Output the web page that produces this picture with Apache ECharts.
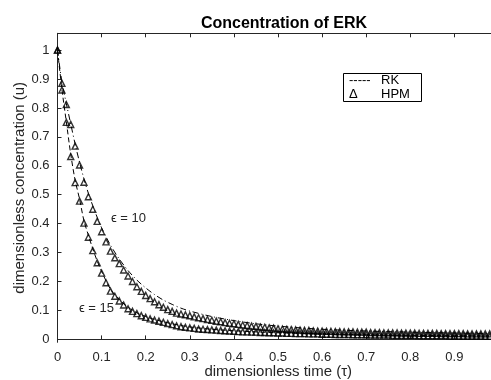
<!DOCTYPE html>
<html>
<head>
<meta charset="utf-8">
<script src="https://cdn.jsdelivr.net/npm/echarts@6/dist/echarts.min.js"></script>
<style>
  html, body { margin: 0; padding: 0; background: #fff; }
  #chart { width: 491px; height: 380px; }
</style>
</head>
<body>
<div id="chart"></div>
<script>
// HPM samples (triangles)
const tHpm = [
  0.00, 0.01, 0.02, 0.03, 0.04, 0.05, 0.06, 0.07, 0.08, 0.09,
  0.10, 0.11, 0.12, 0.13, 0.14, 0.15, 0.16, 0.17, 0.18, 0.19,
  0.20, 0.21, 0.22, 0.23, 0.24, 0.25, 0.26, 0.27, 0.28, 0.29,
  0.30, 0.31, 0.32, 0.33, 0.34, 0.35, 0.36, 0.37, 0.38, 0.39,
  0.40, 0.41, 0.42, 0.43, 0.44, 0.45, 0.46, 0.47, 0.48, 0.49,
  0.50, 0.51, 0.52, 0.53, 0.54, 0.55, 0.56, 0.57, 0.58, 0.59,
  0.60, 0.61, 0.62, 0.63, 0.64, 0.65, 0.66, 0.67, 0.68, 0.69,
  0.70, 0.71, 0.72, 0.73, 0.74, 0.75, 0.76, 0.77, 0.78, 0.79,
  0.80, 0.81, 0.82, 0.83, 0.84, 0.85, 0.86, 0.87, 0.88, 0.89,
  0.90, 0.91, 0.92, 0.93, 0.94, 0.95, 0.96, 0.97, 0.98
]
const hpmEps10 = [
  1.000, 0.885, 0.812, 0.743, 0.668, 0.603, 0.543, 0.493, 0.450, 0.408,
  0.372, 0.337, 0.305, 0.282, 0.262, 0.240, 0.219, 0.200, 0.182, 0.166,
  0.152, 0.141, 0.130, 0.120, 0.111, 0.103, 0.097, 0.091, 0.088, 0.085,
  0.082, 0.078, 0.075, 0.072, 0.069, 0.066, 0.063, 0.061, 0.058, 0.056,
  0.054, 0.052, 0.050, 0.048, 0.046, 0.045, 0.043, 0.042, 0.040, 0.039,
  0.037, 0.036, 0.035, 0.034, 0.033, 0.032, 0.031, 0.031, 0.030, 0.029,
  0.029, 0.028, 0.028, 0.027, 0.027, 0.026, 0.026, 0.026, 0.025, 0.025,
  0.025, 0.024, 0.024, 0.024, 0.023, 0.023, 0.023, 0.023, 0.022, 0.022,
  0.022, 0.022, 0.021, 0.021, 0.021, 0.021, 0.021, 0.020, 0.020, 0.020,
  0.020, 0.020, 0.020, 0.019, 0.019, 0.019, 0.019, 0.019, 0.019
]
const hpmEps15 = [
  1.000, 0.862, 0.750, 0.632, 0.542, 0.478, 0.402, 0.353, 0.307, 0.265,
  0.229, 0.196, 0.167, 0.149, 0.133, 0.119, 0.106, 0.097, 0.089, 0.082,
  0.076, 0.071, 0.067, 0.063, 0.059, 0.055, 0.051, 0.047, 0.044, 0.042,
  0.040, 0.038, 0.036, 0.035, 0.034, 0.033, 0.032, 0.031, 0.030, 0.029,
  0.028, 0.027, 0.026, 0.026, 0.025, 0.025, 0.024, 0.024, 0.023, 0.023,
  0.022, 0.022, 0.021, 0.021, 0.020, 0.020, 0.020, 0.019, 0.019, 0.019,
  0.018, 0.018, 0.018, 0.017, 0.017, 0.017, 0.017, 0.016, 0.016, 0.016,
  0.016, 0.015, 0.015, 0.015, 0.015, 0.015, 0.014, 0.014, 0.014, 0.014,
  0.014, 0.014, 0.013, 0.013, 0.013, 0.013, 0.013, 0.013, 0.013, 0.012,
  0.012, 0.012, 0.012, 0.012, 0.012, 0.012, 0.012, 0.011, 0.011
]

// RK solution (lines)
const tRk = [
  0, 0.01, 0.02, 0.03, 0.04, 0.05, 0.06, 0.07, 0.08, 0.09, 0.10,
  0.12, 0.14, 0.16, 0.18, 0.20, 0.22, 0.24, 0.26, 0.28, 0.30,
  0.35, 0.40, 0.45, 0.50, 0.55, 0.60, 0.70, 0.80, 0.90, 0.983
]
const rkEps10 = [
  1.0, 0.89, 0.815, 0.745, 0.675, 0.612, 0.555, 0.505, 0.462, 0.422, 0.386,
  0.326, 0.278, 0.238, 0.205, 0.178, 0.155, 0.136, 0.121, 0.108, 0.098,
  0.079, 0.065, 0.054, 0.046, 0.040, 0.035, 0.029, 0.025, 0.022, 0.020
]
const rkEps15 = [
  1.0, 0.865, 0.752, 0.64, 0.55, 0.485, 0.41, 0.36, 0.313, 0.271, 0.235,
  0.174, 0.138, 0.111, 0.092, 0.079, 0.069, 0.061, 0.054, 0.048, 0.043,
  0.035, 0.030, 0.026, 0.023, 0.021, 0.019, 0.016, 0.014, 0.013, 0.012
]

const xTicks = [0, 0.1, 0.2, 0.3, 0.4, 0.5, 0.6, 0.7, 0.8, 0.9]
const yTicks = [0, 0.1, 0.2, 0.3, 0.4, 0.5, 0.6, 0.7, 0.8, 0.9, 1]

const font = "'Liberation Sans', Arial, 'DejaVu Sans', sans-serif"
const ink = '#262626'

const pairs = (xs, ys) => xs.map((x, i) => [x, ys[i]])

const chart = echarts.init(document.getElementById('chart'), null, { renderer: 'canvas' })

const axisCommon = {
  type: 'value',
  axisLine: { show: true, lineStyle: { color: ink, width: 1 } },
  splitLine: { show: false },
}

const hpmStyle = {
  type: 'scatter',
  symbol: 'triangle',
  symbolSize: [6, 6],
  itemStyle: { color: 'rgba(0,0,0,0)', borderColor: '#000', borderWidth: 1.4 },
}

chart.setOption({
  backgroundColor: '#fff',
  animation: false,
  title: {
    text: 'Concentration of ERK',
    left: 279,
    top: 11,
    textAlign: 'center',
    textStyle: { fontFamily: font, fontSize: 16, fontWeight: 'bold', color: '#000' },
  },
  grid: { left: 57.5, right: 0, top: 33.3, bottom: 37.7, containLabel: false, outerBoundsMode: 'none' },
  xAxis: [
    {
      ...axisCommon,
      min: 0,
      max: 0.983,
      position: 'bottom',
      name: 'dimensionless time (τ)',
      nameLocation: 'middle',
      nameGap: 22,
      nameMoveOverlap: false,
      nameTextStyle: { fontFamily: font, fontSize: 15, color: ink, padding: [0, 0, 0, 8] },
      axisTick: { show: true, inside: true, length: 4, customValues: xTicks, lineStyle: { color: ink } },
      axisLabel: { customValues: xTicks, fontFamily: font, fontSize: 13, color: ink, margin: 9 },
    },
    {
      ...axisCommon,
      min: 0,
      max: 0.983,
      position: 'top',
      axisTick: { show: true, inside: true, length: 4, customValues: xTicks, lineStyle: { color: ink } },
      axisLabel: { show: false },
    },
  ],
  yAxis: {
    ...axisCommon,
    min: -0.01,
    max: 1.058,
    name: 'dimensionless concentration (u)',
    nameLocation: 'middle',
    nameGap: 30,
    nameMoveOverlap: false,
    nameTextStyle: { fontFamily: font, fontSize: 15, color: ink },
    axisTick: { show: true, inside: true, length: 4, customValues: yTicks, lineStyle: { color: ink } },
    axisLabel: { customValues: yTicks, fontFamily: font, fontSize: 13, color: ink, margin: 8 },
  },
  series: [
    {
      name: 'RK eps10',
      type: 'line',
      data: pairs(tRk, rkEps10),
      smooth: 0.3,
      showSymbol: false,
      lineStyle: { color: '#000', width: 1, type: [6, 3, 1, 3] },
    },
    {
      name: 'RK eps15',
      type: 'line',
      data: pairs(tRk, rkEps15),
      smooth: 0.3,
      showSymbol: false,
      lineStyle: { color: '#000', width: 1, type: [5, 3] },
    },
    { ...hpmStyle, name: 'HPM eps10', data: pairs(tHpm, hpmEps10) },
    { ...hpmStyle, name: 'HPM eps15', data: pairs(tHpm, hpmEps15) },
  ],
  graphic: [
    {
      type: 'rect',
      shape: { x: 343.5, y: 73.5, width: 78, height: 28 },
      style: { fill: '#fff', stroke: '#000', lineWidth: 1 },
      z: 100,
    },
    { type: 'text', x: 349, y: 80.5, z: 101, style: { text: '-----', font: `13px ${font}`, fill: '#000', verticalAlign: 'middle' } },
    { type: 'text', x: 381, y: 80.5, z: 101, style: { text: 'RK', font: `13px ${font}`, fill: '#000', verticalAlign: 'middle' } },
    { type: 'text', x: 349, y: 94, z: 101, style: { text: 'Δ', font: `13px ${font}`, fill: '#000', verticalAlign: 'middle' } },
    { type: 'text', x: 381, y: 94, z: 101, style: { text: 'HPM', font: `13px ${font}`, fill: '#000', verticalAlign: 'middle' } },
    { type: 'text', x: 111, y: 218, z: 101, style: { text: 'ϵ = 10', font: `13px ${font}`, fill: ink, verticalAlign: 'middle' } },
    { type: 'text', x: 79, y: 308, z: 101, style: { text: 'ϵ = 15', font: `13px ${font}`, fill: ink, verticalAlign: 'middle' } },
  ],
})
</script>
</body>
</html>
